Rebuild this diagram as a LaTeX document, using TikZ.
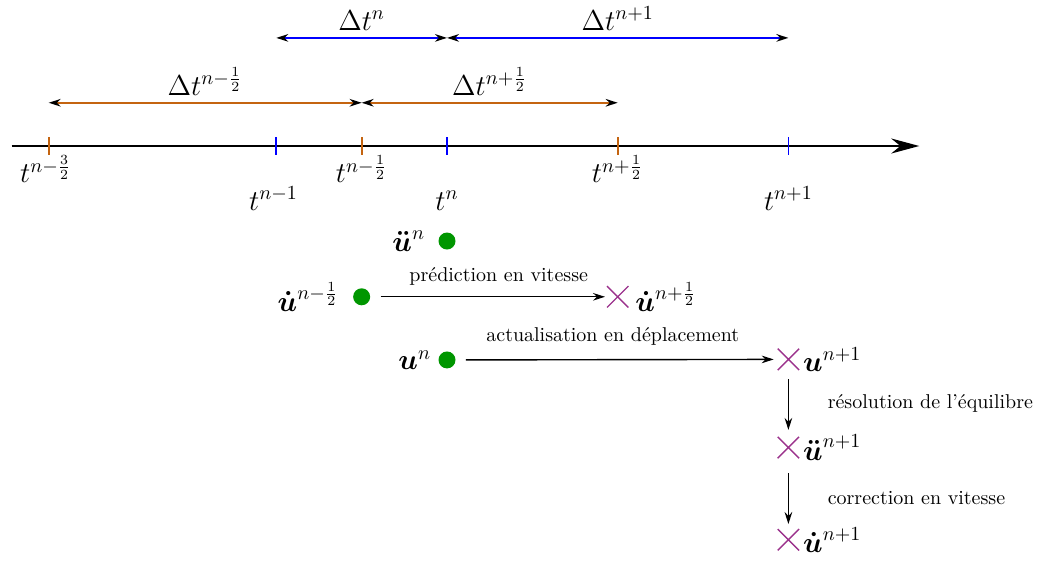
\documentclass[tikz,border=0pt]{standalone}
\usepackage{amsmath, amssymb}
\usepackage{tikz}
\usetikzlibrary{arrows.meta, shapes.misc, positioning}

\definecolor{halforange}{RGB}{196,100,16}
\definecolor{knowngreen}{RGB}{0,150,0}
\definecolor{predpurple}{RGB}{155,50,140}

\tikzset{
  flow/.style={line width=0.7pt, -{Stealth[length=6pt, width=3.8pt]}},
  span/.style={line width=0.9pt, {Stealth[length=6pt, width=3.8pt, black]}-{Stealth[length=6pt, width=3.8pt, black]}},
  tickmark/.style={line width=0.9pt},
  known/.style={circle, fill=knowngreen, inner sep=0pt, minimum size=8.5pt},
  pred/.style={cross out, draw=predpurple, line width=0.7pt, inner sep=0pt, minimum size=10pt},
  lbl/.style={font=\Large, text=black},
}

\begin{document}
\begin{tikzpicture}
    \useasboundingbox (-7.856,-7.31) rectangle (10.545,2.566);

    % time axis
    \coordinate (axstart) at (-7.65,0);
    \coordinate (axend) at (8.3,0);
    \draw[line width=0.9pt, -{Stealth[length=14pt, width=7.5pt]}] (axstart) -- (axend);

    \foreach \x in {-7, -1.5, 3}
        \draw[tickmark, draw=halforange] (\x,-0.15) -- (\x,0.15);
    \foreach \x in {-3, 0, 6}
        \draw[tickmark, draw=blue] (\x,-0.15) -- (\x,0.15);

    \node[lbl, anchor=base] (tnmtrh) at (-7.05,-0.65) {$t^{n-\frac{3}{2}}$};
    \node[lbl, anchor=base] (tnmone) at (-3.05,-1.125) {$t^{n-1}$};
    \node[lbl, anchor=base] (tnmhalf) at (-1.5,-0.65) {$t^{n-\frac{1}{2}}$};
    \node[lbl, anchor=base] (tn) at (0,-1.125) {$t^{n}$};
    \node[lbl, anchor=base] (tnphalf) at (3,-0.65) {$t^{n+\frac{1}{2}}$};
    \node[lbl, anchor=base] (tnpone) at (6,-1.125) {$t^{n+1}$};

    % time steps
    \coordinate (bA) at (-3,1.9);
    \coordinate (bB) at (0,1.9);
    \coordinate (bC) at (6,1.9);
    \draw[span, draw=blue] (bA) -- node[lbl, above] (dtn) {$\Delta t^{n}$} (bB);
    \draw[span, draw=blue] (bB) -- node[lbl, above] (dtnp) {$\Delta t^{n+1}$} (bC);

    \coordinate (oA) at (-7,0.76);
    \coordinate (oB) at (-1.5,0.76);
    \coordinate (oC) at (3,0.76);
    \draw[span, draw=halforange] (oA) -- node[lbl, above] (dtnmh) {$\Delta t^{n-\frac{1}{2}}$} (oB);
    \draw[span, draw=halforange] (oB) -- node[lbl, above] (dtnph) {$\Delta t^{n+\frac{1}{2}}$} (oC);

    % known quantities
    \node[known, label={[lbl, label distance=3pt]left:$\boldsymbol{\ddot u}^{n}$}] (accn) at (0,-1.67) {};
    \node[known, label={[lbl, label distance=3.5pt]left:$\boldsymbol{\dot u}^{n-\frac{1}{2}}$}] (velmh) at (-1.5,-2.65) {};
    \node[known, label={[lbl]left:$\boldsymbol{u}^{n}$}] (dispn) at (0,-3.76) {};

    % predicted quantities
    \node[pred, label={[lbl]right:$\boldsymbol{\dot u}^{n+\frac{1}{2}}$}] (velph) at (3,-2.65) {};
    \node[pred, label={[lbl, xshift=-1.5pt]right:$\boldsymbol{u}^{n+1}$}] (dispp) at (6,-3.75) {};
    \node[pred, label={[lbl, xshift=-1.5pt]right:$\boldsymbol{\ddot u}^{n+1}$}] (accp) at (6,-5.3) {};
    \node[pred, label={[lbl, xshift=-1.5pt]right:$\boldsymbol{\dot u}^{n+1}$}] (velp) at (6,-6.92) {};

    \draw[flow, shorten <=5pt, shorten >=1pt] (velmh) -- node[above=2pt, xshift=5pt] (pv) {prédiction en vitesse} (velph);
    \draw[flow, shorten <=5pt, shorten >=2pt] (dispn) -- node[above=3.5pt, xshift=-2pt] (ad) {actualisation en déplacement} (dispp);
    \draw[flow, shorten <=4.5pt, shorten >=3.5pt] (dispp) -- node[right=16pt] (re) {résolution de l’équilibre} (accp);
    \draw[flow, shorten <=7.5pt, shorten >=2.5pt] (accp) -- node[right=16pt, yshift=-2pt] (cv) {correction en vitesse} (velp);
\end{tikzpicture}
\end{document}
